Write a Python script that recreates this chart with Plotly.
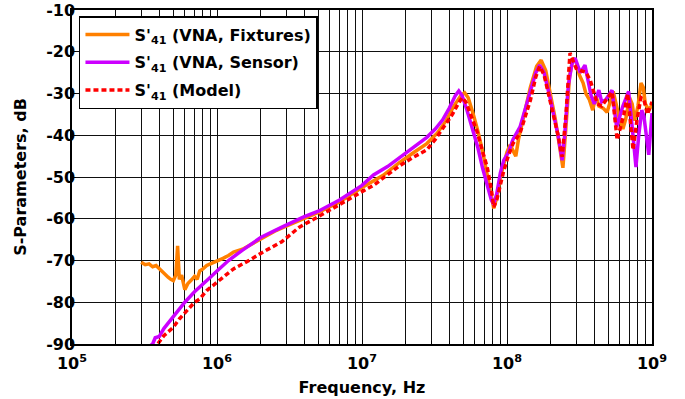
import plotly.graph_objects as go

# ---- data ----
fix_f = [3.0e5, 3.2e5, 3.4e5, 3.6e5, 3.8e5, 4.0e5, 4.2e5, 4.4e5, 4.6e5, 4.8e5, 5.0e5, 5.2e5, 5.35e5,
         5.5e5, 5.7e5, 6.0e5, 6.3e5, 6.6e5, 7.0e5, 7.3e5, 7.6e5, 8.0e5, 8.5e5, 9.0e5, 1.0e6, 1.1e6,
         1.2e6, 1.3e6, 1.5e6, 1.7e6, 2.0e6, 2.5e6, 3.0e6, 4.0e6, 5.0e6, 7.0e6, 1.0e7, 1.4e7, 1.8e7,
         2.3e7, 2.8e7, 3.3e7, 3.8e7, 4.3e7, 4.8e7, 5.1e7, 5.4e7, 5.8e7, 6.3e7, 6.8e7, 7.3e7, 7.8e7,
         8.1e7, 8.5e7, 9.0e7, 9.5e7, 1.0e8, 1.05e8, 1.1e8, 1.15e8, 1.2e8, 1.3e8, 1.45e8, 1.6e8,
         1.72e8, 1.85e8, 2.0e8, 2.15e8, 2.3e8, 2.43e8, 2.55e8, 2.7e8, 2.85e8, 3.0e8, 3.15e8, 3.35e8,
         3.5e8, 3.7e8, 3.9e8, 4.1e8, 4.3e8, 4.6e8, 4.9e8, 5.2e8, 5.4e8, 5.7e8, 6.0e8, 6.3e8, 6.6e8,
         7.0e8, 7.3e8, 7.6e8, 8.0e8, 8.4e8, 8.7e8, 9.0e8, 9.5e8, 1.0e9]
fix_db = [-70.4, -71.0, -70.8, -71.5, -71.2, -72.0, -72.5, -73.2, -74.0, -74.5, -74.8, -73.5, -66.5,
          -74.5, -73.5, -77.0, -75.5, -74.8, -73.8, -74.5, -72.5, -72.0, -71.2, -70.8, -70.2, -69.5,
          -68.8, -68.0, -67.3, -66.2, -65.0, -63.0, -61.8, -60.0, -58.5, -56.0, -52.5, -49.6, -46.6,
          -44.0, -42.0, -39.5, -36.5, -33.0, -30.5, -29.8, -31.0, -34.5, -39.0, -44.0, -49.0, -54.5,
          -57.5, -55.0, -50.0, -46.5, -44.0, -42.3, -43.5, -45.0, -41.0, -35.5, -28.5, -23.5,
          -22.0, -24.5, -30.5, -36.0, -42.5, -47.8, -38.0, -26.0, -21.5, -22.5, -25.5, -27.5,
          -30.0, -31.5, -34.0, -30.5, -33.0, -33.5, -34.5, -31.0, -29.5, -33.0, -36.5, -38.5, -36.0,
          -31.0, -32.5, -36.5, -33.0, -27.5, -28.5, -32.5, -34.0, -32.7]

sen_f = [3.0e5, 3.6e5, 3.75e5, 4.0e5, 4.3e5, 4.6e5, 5.0e5, 5.5e5, 6.0e5, 7.0e5, 8.0e5, 9.0e5, 1.0e6,
         1.2e6, 1.5e6, 2.0e6, 2.8e6, 4.0e6, 5.0e6, 7.0e6, 1.0e7, 1.2e7, 1.5e7, 1.8e7, 2.2e7, 2.8e7,
         3.2e7, 3.6e7, 4.0e7, 4.4e7, 4.65e7, 4.9e7, 5.3e7, 5.8e7, 6.3e7, 6.8e7, 7.3e7, 7.8e7, 8.1e7,
         8.5e7, 9.0e7, 9.5e7, 1.02e8, 1.1e8, 1.23e8, 1.35e8, 1.45e8, 1.58e8, 1.68e8, 1.8e8, 1.95e8,
         2.1e8, 2.25e8, 2.4e8, 2.5e8, 2.65e8, 2.8e8, 2.95e8, 3.2e8, 3.45e8, 3.6e8, 3.8e8, 4.0e8,
         4.3e8, 4.5e8, 4.8e8, 5.3e8, 5.7e8, 6.3e8, 6.9e8, 7.3e8, 7.75e8, 8.1e8, 8.5e8, 8.8e8, 9.2e8,
         9.5e8, 1.0e9]
sen_db = [-92.0, -90.0, -88.5, -88.2, -86.3, -85.0, -83.5, -81.5, -80.0, -77.5, -75.5, -74.0, -72.5,
          -70.0, -67.5, -64.5, -62.0, -59.5, -58.2, -55.5, -52.0, -49.5, -47.5, -45.5, -43.2, -40.5,
          -38.5, -36.3, -33.5, -30.5, -29.4, -30.5, -34.0, -38.5, -43.0, -48.0, -52.0, -55.5, -56.5,
          -54.0, -49.0, -46.0, -44.2, -41.0, -38.0, -33.0, -29.2, -25.0, -23.2, -25.0, -30.0,
          -35.0, -40.0, -46.0, -40.0, -28.0, -23.0, -21.5, -25.0, -23.2, -26.5, -30.5, -32.5,
          -29.2, -32.0, -31.5, -29.2, -38.0, -33.0, -29.5, -38.0, -47.6, -40.0, -34.0, -35.5, -42.0,
          -44.7, -34.7]

mod_f = [3.0e5, 3.9e5, 4.3e5, 5.0e5, 5.5e5, 6.0e5, 7.0e5, 7.6e5, 8.5e5, 1.0e6, 1.3e6, 1.7e6, 2.0e6,
         2.8e6, 3.7e6, 5.0e6, 7.0e6, 1.0e7, 1.2e7, 1.5e7, 1.8e7, 2.2e7, 2.8e7, 3.2e7, 3.6e7, 4.2e7,
         4.6e7, 4.9e7, 5.2e7, 5.6e7, 6.2e7, 6.8e7, 7.3e7, 7.8e7, 8.1e7, 8.5e7, 9.0e7, 9.5e7, 1.02e8,
         1.1e8, 1.23e8, 1.35e8, 1.45e8, 1.58e8, 1.68e8, 1.8e8, 1.95e8, 2.1e8, 2.25e8, 2.4e8, 2.55e8,
         2.72e8, 2.85e8, 3.0e8, 3.2e8, 3.5e8, 3.75e8, 4.0e8, 4.2e8, 4.5e8, 5.0e8, 5.3e8, 5.75e8,
         6.4e8, 6.8e8, 7.1e8, 7.4e8, 7.9e8, 8.4e8, 8.8e8, 9.3e8, 1.0e9]
mod_db = [-94.0, -90.0, -88.0, -86.0, -84.0, -82.5, -80.0, -79.2, -77.2, -75.2, -72.0, -69.8, -68.3,
          -65.5, -62.0, -59.5, -56.5, -53.5, -52.0, -49.5, -47.4, -45.5, -43.5, -41.0, -38.3, -35.0,
          -32.5, -31.0, -32.0, -35.0, -39.0, -44.0, -47.6, -53.0, -57.2, -55.5, -51.5, -48.5, -45.0,
          -42.0, -39.5, -35.0, -31.6, -26.0, -23.5, -25.5, -30.5, -35.5, -40.0, -45.2, -35.0,
          -20.3, -22.0, -24.0, -24.5, -24.9, -26.8, -30.0, -32.5, -33.0, -31.0, -29.6, -41.1,
          -35.0, -30.0, -38.0, -43.5, -36.0, -31.0, -31.5, -35.0, -32.0]

x_tick_vals = [1e5, 1e6, 1e7, 1e8, 1e9]
x_tick_text = ["10<sup>5</sup>", "10<sup>6</sup>", "10<sup>7</sup>", "10<sup>8</sup>", "10<sup>9</sup>"]
y_tick_vals = [-90, -80, -70, -60, -50, -40, -30, -20, -10]
y_tick_text = ["-90", "-80", "-70", "-60", "-50", "-40", "-30", "-20", "-10"]

minor_vals = [m * 10 ** e for e in range(5, 9) for m in range(2, 10)]

FONT = "DejaVu Sans"
FS = 16

fig = go.Figure()
fig.add_trace(go.Scatter(x=fix_f, y=fix_db, mode="lines", legendgroup="a",
                         name="S'<sub>41</sub> (VNA, Fixtures)",
                         line=dict(color="#FF8000", width=3.5)))
fig.add_trace(go.Scatter(x=sen_f, y=sen_db, mode="lines", legendgroup="b",
                         name="S'<sub>41</sub> (VNA, Sensor)",
                         line=dict(color="#CC00FF", width=3.5)))
fig.add_trace(go.Scatter(x=mod_f, y=mod_db, mode="lines", legendgroup="c",
                         name="S'<sub>41</sub> (Model)",
                         line=dict(color="#FF0000", width=3.5, dash="5px,3px")))

grid_col = "rgb(15,15,15)"
fig.update_layout(
    width=685, height=399,
    margin=dict(l=72, r=33, t=10, b=55),
    paper_bgcolor="white", plot_bgcolor="white",
    font=dict(family=FONT, size=FS, color="black", weight="bold"),
    showlegend=True,
    legend=dict(x=0.012, y=0.982, xanchor="left", yanchor="top",
                bgcolor="white", bordercolor="black", borderwidth=1.5,
                font=dict(family=FONT, size=FS, color="black", weight="bold"),
                itemwidth=44, tracegroupgap=4),
    xaxis=dict(type="log", range=[5, 9], automargin=False,
               tickmode="array", tickvals=x_tick_vals, ticktext=x_tick_text,
               tickfont=dict(family=FONT, size=FS, weight="bold"),
               ticklabelstandoff=4, ticklabeloverflow="allow",
               showgrid=True, gridcolor=grid_col, gridwidth=1,
               minor=dict(tickmode="array", tickvals=minor_vals, showgrid=True,
                          gridcolor=grid_col, gridwidth=1, ticks="inside", ticklen=3,
                          tickcolor="black"),
               ticks="inside", ticklen=4, tickcolor="black",
               showline=True, linecolor="black", linewidth=1.5, mirror=True,
               zeroline=False,
               title=dict(text="Frequency, Hz", font=dict(family=FONT, size=FS, weight="bold"),
                          standoff=10)),
    yaxis=dict(range=[-90, -10], automargin=False,
               tickmode="array", tickvals=y_tick_vals, ticktext=y_tick_text,
               tickfont=dict(family=FONT, size=FS, weight="bold"),
               ticklabelstandoff=-8, ticklabeloverflow="allow",
               showgrid=True, gridcolor=grid_col, gridwidth=1,
               ticks="inside", ticklen=4, tickcolor="black",
               showline=True, linecolor="black", linewidth=1.5, mirror=True,
               zeroline=False,
               title=dict(text="S-Parameters, dB", font=dict(family=FONT, size=FS, weight="bold"),
                          standoff=16)),
)

fig.write_html("out.html", config={"displayModeBar": False},
               post_script="document.body.style.margin='0';")
